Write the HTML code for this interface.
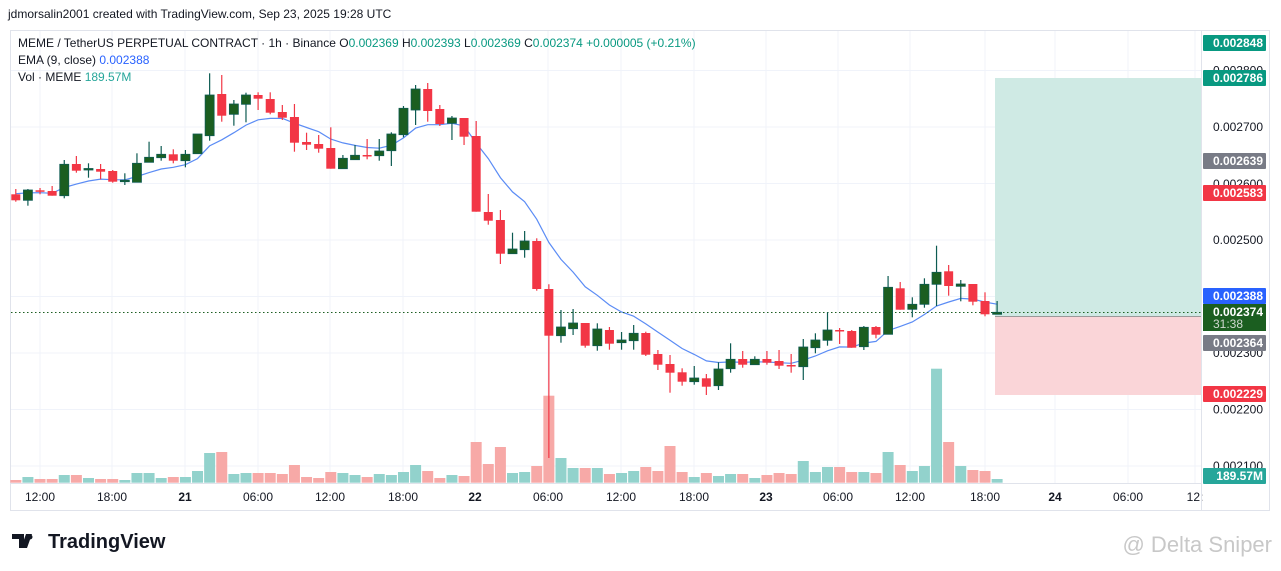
<!DOCTYPE html>
<html><head><meta charset="utf-8"><style>
body{margin:0;background:#fff;width:1281px;height:571px;overflow:hidden;font-family:"Liberation Sans",sans-serif}
svg{position:absolute;left:0;top:0}
</style></head><body>
<svg id="s" width="1281" height="571" xmlns="http://www.w3.org/2000/svg" font-family="Liberation Sans, sans-serif"></svg>
<script>
const S=document.getElementById('s');let h='';
const C=[[194.3,200.3,189,201.7],[200.3,190,189,205.7],[190.3,191.7,188,194.3],[191,195.7,186,195.7],[195.7,164.3,160,198.3],[164,170.7,156,172.7],[169.5,168.5,163.3,177.7],[169,171.7,164,179.3],[171,181.7,170,182.7],[181,180.2,173.3,185],
[182.3,163.3,153.3,182.3],[162.3,157.3,141.7,162.3],[157.7,154.3,146,160.7],[154.3,160.7,149.3,163.3],[160.7,154.3,150,167.3],[153.7,134,134,153.7],[135.7,95,73.3,140.7],[94,115.7,75,121.7],[114.3,104,100,125.7],[104.3,95,92.7,122.3],
[95,98.7,92.3,110],[99,112.7,92.3,114.3],[112,117.7,105,120],[117,142.7,104,151.7],[142,144.7,132.7,150],[144,148.7,135,152.7],[148,168.7,127.3,168.7],[168.7,158.3,155,168.7],[159.7,155.3,145,159.7],[155,155.7,139,159.3],
[155.7,151,139,160.7],[150.7,134,132.3,166],[134.7,108.3,106,137.3],[110,89,85,125],[89,111,83,121.7],[109,124,105,126],[123.3,118,116,140],[118,136.7,118,145],[136,211.7,121,211.7],[212,220.7,194,224.7],
[220,253.7,210,264],[253.7,249,232.7,253.7],[249.7,241,231,257.7],[241,289,238.3,290.7],[289,335.7,284.3,458],[335.7,327,310,342.7],[328.7,323,309,335],[323,345.7,323,347.7],[345.7,329,323.3,350.7],[330,343.7,327,349.7],
[342.7,340,332,349.7],[340.7,333.3,325,349.7],[333,354.7,331.7,356],[354,364.7,350,370],[364,372.7,355,392.7],[372.3,381.7,368.3,385.7],[381.7,378,366,384.7],[378.3,386.7,374,395],[385.7,369,362.3,390],[368.7,359.3,343.3,372.7],
[359,364.7,351,367.7],[364.7,359.3,356.3,364.7],[359,362.7,351,364.7],[361,365.7,350,369],[365,365.7,354,372.7],[366.7,347,339,380],[347.7,340,333.3,353.3],[340.3,330,312.3,345.7],[330,331.3,328,344],[331,347.7,330,347.7],
[346.7,327.3,326,350],[327,334.7,326,338.3],[334.3,287.3,276,334.3],[288.3,309.7,282,309.7],[309.3,304.3,297.3,317.3],[304.3,284.3,278.3,307.7],[284.3,272.3,245.7,306],[271.3,286,265,295.7],[286.3,284,280,301.3],[284,301.7,284,305.3],
[301,314.3,292.3,316.3],[314.3,312.3,301,314.3]];
const V=[2.7,5.7,3.7,3.7,7.7,7.7,4.7,3.7,3.7,2.7,9.7,9.7,4.7,5.7,5.7,11.7,29.7,30.7,8.7,9.7,9.7,9.7,8.7,17.7,5.7,4.7,10.7,9.7,7.7,5.7,8.7,7.7,10.7,17.7,11.7,4.7,7.7,6.7,40.7,18.7,35.7,9.7,10.7,16.7,87,24.7,14.7,14.7,14.7,8.7,9.7,11.7,15.7,11.7,36.7,10.7,5.7,9.7,6.7,8.7,8.7,4.7,7.7,9.7,8.7,21.7,10.7,15.7,15.7,10.7,10.7,9.7,30.7,17.7,11.7,16.7,114,40.7,16.7,12.7,11.7,3.7];
const X=i=>15.8+12.115*i;
// frame
h+='<rect x="10.5" y="30.5" width="1259" height="480" fill="none" stroke="#e0e3eb"/>';
// grid
[70.5,127,183.5,240,296.5,353,409.5,466].forEach(y=>h+=`<line x1="11" x2="1201" y1="${y}" y2="${y}" stroke="#f0f3fa"/>`);
const T=[[40,'12:00'],[112,'18:00'],[185,'21'],[258,'06:00'],[330,'12:00'],[403,'18:00'],[475,'22'],[548,'06:00'],[621,'12:00'],[694,'18:00'],[766,'23'],[838,'06:00'],[910,'12:00'],[985,'18:00'],[1055,'24'],[1128,'06:00'],[1195,'12:']];
T.forEach(t=>{h+=`<line x1="${t[0]}" x2="${t[0]}" y1="31" y2="483" stroke="#f0f3fa"/>`;const b=/^\d\d$/.test(t[1]);h+=`<text x="${t[0]}" y="501" font-size="12" text-anchor="middle" fill="#131722" ${b?'font-weight="bold"':''}>${t[1]}</text>`});
h+='<line x1="1201.5" x2="1201.5" y1="31" y2="510" stroke="#e0e3eb"/><line x1="11" x2="1201" y1="483.5" y2="483.5" stroke="#e0e3eb"/>';
// position box
h+='<rect x="995" y="78" width="206" height="238" fill="#cfeae4"/><rect x="995" y="316" width="206" height="79" fill="#fad5d8"/><line x1="995" x2="1201" y1="316.5" y2="316.5" stroke="#999"/>';
// volume
C.forEach((c,i)=>{const g=c[1]<c[0];h+=`<rect x="${X(i)-5.5}" y="${482.7-V[i]}" width="11" height="${V[i]}" fill="${g?'#92d2cc':'#f7a9a7'}"/>`});
// ema
let e=192,p=[];C.forEach((c,i)=>{e=e+(c[1]-e)*0.2;p.push(X(i).toFixed(1)+','+e.toFixed(1))});
h+=`<polyline points="${p.join(' ')}" fill="none" stroke="#5b8cf5" stroke-width="1.2"/>`;
// price line
h+='<line x1="11" x2="1201" y1="312.5" y2="312.5" stroke="#1b5e20" stroke-dasharray="1.5,2.5"/>';
// candles
C.forEach((c,i)=>{const g=c[1]<c[0],col=g?'#1b5e20':'#f23645',x=X(i),t=Math.min(c[0],c[1]),b=Math.max(c[0],c[1]);
h+=`<line x1="${x}" x2="${x}" y1="${c[2]}" y2="${c[3]}" stroke="${g?'#0d5b52':col}" stroke-width="1.2"/>`;
h+=`<rect x="${x-4.5}" y="${t}" width="9" height="${Math.max(b-t,1.5)}" fill="${col}" ${g?'stroke="#0d5b52" stroke-width="0.8"':''}/>`});
// right axis
[[127,'0.002700'],[184,'0.002600'],[240,'0.002500'],[353,'0.002300'],[409.5,'0.002200'],[466,'0.002100'],[70.5,'0.002800']].forEach(t=>h+=`<text x="1263" y="${t[0]+4}" font-size="12" text-anchor="end" fill="#131722">${t[1]}</text>`);
const L=[[43,'0.002848','#089981'],[78,'0.002786','#089981'],[161,'0.002639','#787b86'],[193,'0.002583','#f23645'],[296,'0.002388','#2962ff'],[343,'0.002364','#787b86'],[394,'0.002229','#f23645'],[476,'189.57M','#26a69a']];
L.forEach(l=>h+=`<rect x="1203" y="${l[0]-8}" width="63" height="16" rx="1" fill="${l[2]}"/><text x="1263" y="${l[0]+4}" font-size="12" font-weight="bold" text-anchor="end" fill="#fff">${l[1]}</text>`);
h+='<rect x="1203" y="304" width="63" height="27" fill="#1b5e20"/><text x="1263" y="316" font-size="12" font-weight="bold" text-anchor="end" fill="#fff">0.002374</text><text x="1243" y="328" font-size="12" text-anchor="end" fill="#cfd8cf">31:38</text>';
// header
h+='<text x="8" y="18" font-size="12" fill="#131722">jdmorsalin2001 created with TradingView.com, Sep 23, 2025 19:28 UTC</text>';
h+='<text x="18" y="47" font-size="12" fill="#131722">MEME / TetherUS PERPETUAL CONTRACT · 1h · Binance  <tspan>O</tspan><tspan fill="#089981">0.002369</tspan>  H<tspan fill="#089981">0.002393</tspan>  L<tspan fill="#089981">0.002369</tspan>  C<tspan fill="#089981">0.002374  +0.000005 (+0.21%)</tspan></text>';
h+='<text x="18" y="64" font-size="12" fill="#131722">EMA (9, close)  <tspan fill="#2962ff">0.002388</tspan></text>';
h+='<text x="18" y="81" font-size="12" fill="#131722">Vol · MEME  <tspan fill="#26a69a">189.57M</tspan></text>';
// footer
h+='<path d="M12 534h12v14h-5v-9h-7z M26 534h6l-5 14h-6z" fill="#131722"/><circle cx="30" cy="537" r="2.5" fill="#131722"/>';
h+='<text x="48" y="548" font-size="20" font-weight="bold" fill="#131722">TradingView</text>';
h+='<text x="1272" y="552" font-size="22" text-anchor="end" fill="#c8c8c8">@ Delta Sniper</text>';
S.innerHTML=h;
</script>
</body></html>
